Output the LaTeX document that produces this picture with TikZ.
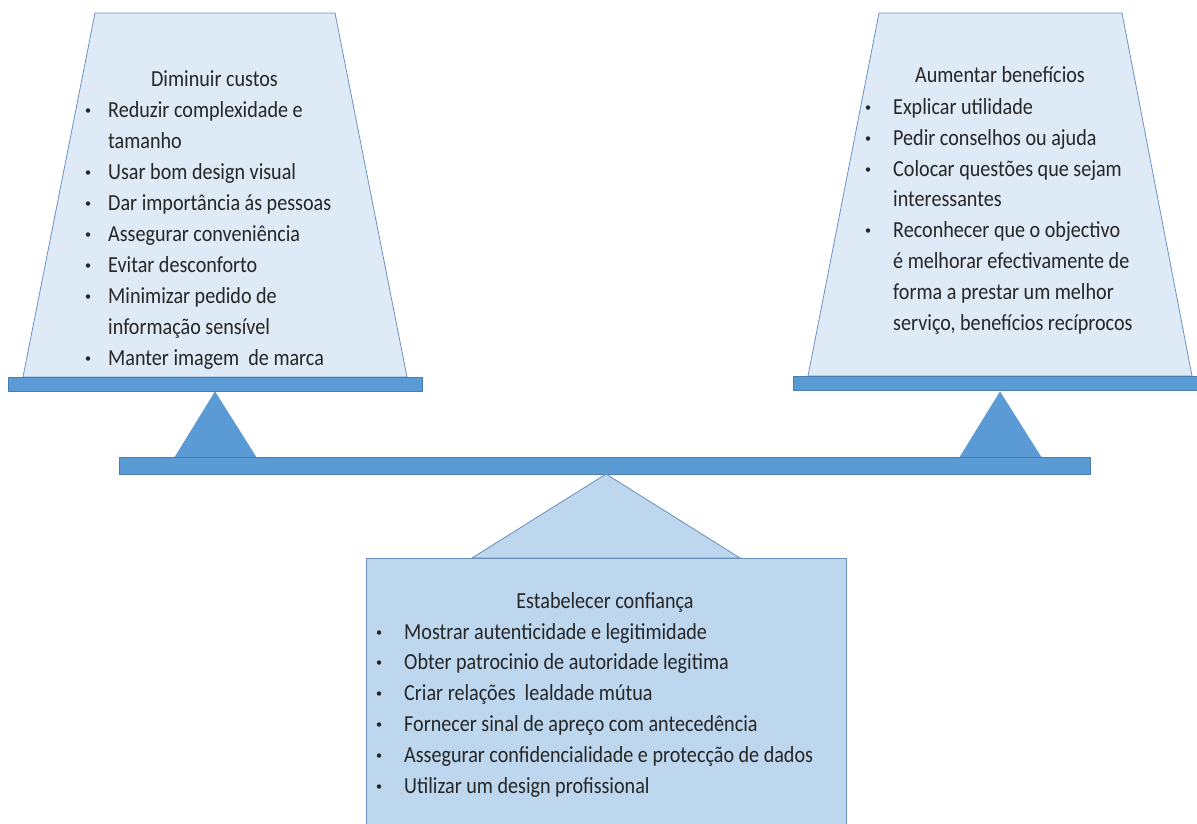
\documentclass[tikz,border=0pt]{standalone}
\usepackage{fontspec}
\setmainfont{Carlito}
\definecolor{panfill}{HTML}{DEEAF6}
\definecolor{panline}{HTML}{6C93C4}
\definecolor{barfill}{HTML}{5B9BD5}
\definecolor{barline}{HTML}{4A7EB0}
\definecolor{basefill}{HTML}{BDD7EE}
\definecolor{baseline}{HTML}{6A8EB8}
% condensed body text
\newcommand{\ctext}[1]{\scalebox{0.875}[1]{#1}}
\tikzset{
  pan/.style={fill=panfill, draw=panline, line width=0.8pt},
  bar/.style={fill=barfill, draw=barline, line width=0.8pt},
  support/.style={fill=barfill, draw=barfill, line width=0.6pt},
  base/.style={fill=basefill, draw=baseline, line width=0.8pt},
  txt/.style={inner sep=0pt, font=\fontsize{23}{27}\selectfont, text=black!85},
  head/.style={txt, anchor=base},
  item/.style={txt, anchor=base west},
  dot/.style={circle, fill=black!85, inner sep=0pt, minimum size=4.5pt}
}
\begin{document}
\begin{tikzpicture}[x=1pt, y=-1pt]
\useasboundingbox (0,0) rectangle (1197,823);

% left pan (costs)
\draw[pan] (23,377) -- (95,13) -- (335,13) -- (407,377) -- cycle;
\draw[bar] (8,377) rectangle (422,391);
% right pan (benefits)
\draw[pan] (808,376) -- (879,13) -- (1122,13) -- (1192,376) -- cycle;
\draw[bar] (793,376) rectangle (1200,390);
% small supports between beam and pans
\draw[support] (175,457) -- (215,392) -- (256,457) -- cycle;
\draw[support] (960,457) -- (1000,392) -- (1041,457) -- cycle;
% beam
\draw[bar] (119,457) rectangle (1090,474);
% fulcrum and trust box
\draw[base] (472,558) -- (606,474) -- (740,558) -- cycle;
\draw[base] (366,558) rectangle (846,830);

% texts: costs
\node[head] (lt) at (214.5,86.5) {\ctext{Diminuir custos}};
\foreach \y/\t/\b in {117/Reduzir complexidade e/1, 148/tamanho/0, 179/Usar bom design visual/1,
  210/Dar importância ás pessoas/1, 241/Assegurar conveniência/1, 272/Evitar desconforto/1,
  303/Minimizar pedido de/1, 334/informação sensível/0, 365/Manter imagem\ \ de marca/1}{
  \node[item] (l\y) at (108,\y) {\ctext{\t}};
  \ifnum\b=1 \node[dot] (ld\y) at (88,\y-6.5) {};\fi
}

% texts: benefits
\node[head] (rt) at (1000,82.5) {\ctext{Aumentar benefícios}};
\foreach \y/\t/\b in {114/Explicar utilidade/1, 145/Pedir conselhos ou ajuda/1,
  176/Colocar questões que sejam/1, 206/interessantes/0, 237/Reconhecer que o objectivo/1,
  268/é melhorar efectivamente de/0, 299/forma a prestar um melhor/0,
  330/{serviço, benefícios recíprocos}/0}{
  \node[item] (r\y) at (893,\y) {\ctext{\t}};
  \ifnum\b=1 \node[dot] (rd\y) at (868,\y-6.5) {};\fi
}

% texts: trust
\node[head] (bt) at (605,608) {\ctext{Estabelecer confiança}};
\foreach \y/\t in {639/Mostrar autenticidade e legitimidade, 669/Obter patrocinio de autoridade legitima,
  700/Criar relações\ \ lealdade mútua, 731/Fornecer sinal de apreço com antecedência,
  762/Assegurar confidencialidade e protecção de dados, 793/Utilizar um design profissional}{
  \node[item] (b\y) at (404,\y) {\ctext{\t}};
  \node[dot] (bd\y) at (379,\y-6.5) {};
}
\end{tikzpicture}
\end{document}
